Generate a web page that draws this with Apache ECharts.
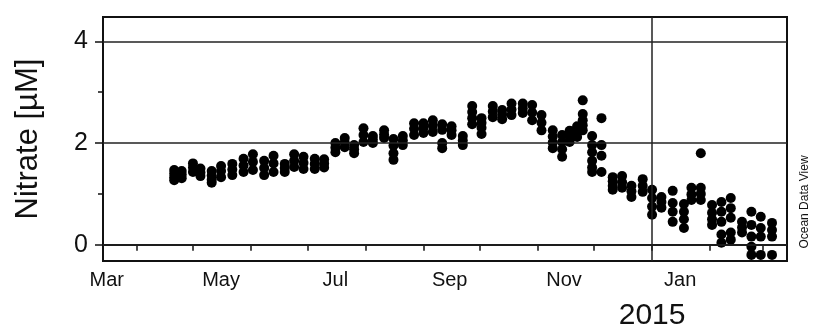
<!DOCTYPE html>
<html>
<head>
<meta charset="utf-8">
<script src="https://cdn.jsdelivr.net/npm/echarts@6/dist/echarts.min.js"></script>
<style>
html,body{margin:0;padding:0;background:#fff;}
#chart{width:813px;height:331px;}
</style>
</head>
<body>
<div id="chart"></div>
<script>
// ---- data ----
const sampleDates = [
  '2014-04-21','2014-04-25','2014-05-01','2014-05-05','2014-05-11','2014-05-16','2014-05-22','2014-05-28',
  '2014-06-02','2014-06-08','2014-06-13','2014-06-19','2014-06-24','2014-06-29','2014-07-05','2014-07-10',
  '2014-07-16','2014-07-21','2014-07-26','2014-07-31','2014-08-05','2014-08-11','2014-08-16','2014-08-21',
  '2014-08-27','2014-09-01','2014-09-06','2014-09-11','2014-09-16','2014-09-22','2014-09-27','2014-10-02',
  '2014-10-08','2014-10-13','2014-10-18','2014-10-24','2014-10-29','2014-11-03','2014-11-09','2014-11-14',
  '2014-11-18','2014-11-22','2014-11-25','2014-11-30','2014-12-05','2014-12-11','2014-12-16','2014-12-21',
  '2014-12-27','2015-01-01','2015-01-06','2015-01-12','2015-01-18','2015-01-22','2015-01-27','2015-02-02',
  '2015-02-07','2015-02-12','2015-02-18','2015-02-23','2015-02-28','2015-03-06'
];
const nitrateProfiles = [
  [1.47,1.40,1.33,1.27],[1.45,1.38,1.31],[1.60,1.52,1.43],[1.50,1.42,1.35],[1.45,1.36,1.28,1.22],
  [1.55,1.45,1.33],[1.59,1.48,1.37],[1.69,1.56,1.43],
  [1.78,1.63,1.47],[1.65,1.51,1.37],[1.75,1.60,1.43],[1.59,1.51,1.43],[1.78,1.65,1.53],
  [1.73,1.61,1.49],[1.69,1.59,1.49],[1.68,1.60,1.52],
  [2.00,1.91,1.82],[2.10,2.01,1.92],[1.96,1.88,1.80],[2.29,2.16,2.02],[2.14,2.07,2.00],
  [2.25,2.17,2.10],[2.08,1.95,1.80,1.67],[2.14,2.05,1.96],
  [2.39,2.28,2.16],[2.39,2.30,2.20],[2.45,2.34,2.22],[2.37,2.26,2.00,1.90],[2.33,2.25,2.16],
  [2.14,2.05,1.96],[2.73,2.61,2.49,2.37],[2.49,2.40,2.30,2.18],
  [2.73,2.62,2.51],[2.65,2.56,2.47],[2.78,2.66,2.55],[2.78,2.68,2.59],[2.75,2.60,2.45],
  [2.55,2.40,2.25],[2.25,2.13,2.01,1.90],[2.16,2.02,1.88,1.73],
  [2.24,2.13,2.02],[2.33,2.22,2.12],[2.84,2.57,2.45,2.35,2.25],[2.14,1.96,1.82,1.65,1.52,1.43],
  [2.49,1.96,1.75,1.43],[1.33,1.25,1.16,1.08],[1.35,1.23,1.12],[1.16,1.05,0.94],
  [1.29,1.16,1.04],[1.08,0.92,0.75,0.59],[0.94,0.84,0.73],[1.06,0.82,0.65,0.45],
  [0.80,0.65,0.50,0.33],[1.12,0.99,0.88],[1.80,1.12,1.00,0.88],[0.78,0.63,0.50,0.39],
  [0.84,0.65,0.45,0.20,0.04],[0.92,0.72,0.53,0.24,0.10],[0.45,0.34,0.24],[0.65,0.39,0.16,-0.04,-0.20],
  [0.55,0.33,0.16,-0.20],[0.43,0.29,0.16,-0.20]
];
const monthNames = ['Jan','Feb','Mar','Apr','May','Jun','Jul','Aug','Sep','Oct','Nov','Dec'];
const axisStart = '2014-03-14';
const axisEnd = '2015-03-14';
const monthTickDates = ['2014-04-01','2014-05-01','2014-06-01','2014-07-01','2014-08-01','2014-09-01',
  '2014-10-01','2014-11-01','2014-12-01','2015-01-01','2015-02-01','2015-03-01'];
const monthLabelDates = ['2014-03-16','2014-05-16','2014-07-16','2014-09-15','2014-11-15','2015-01-16'];
const yearLineDate = '2015-01-01';
const yearLabel = '2015';
const yMajorTicks = [0,2,4];
const yMinorTicks = [1,3];

// ---- build ----
function ts(s){ const p = s.split('-').map(Number); return Date.UTC(p[0], p[1]-1, p[2]); }
const points = [];
sampleDates.forEach((d,i)=>{ nitrateProfiles[i].forEach(v=>points.push([ts(d),v])); });
const tickTs = monthTickDates.map(ts);
const labelTs = monthLabelDates.map(ts);
const yearTs = ts(yearLineDate);
const minTs = ts(axisStart);
const maxTs = ts(axisEnd);
const FONT = 'Liberation Sans, Arial, sans-serif';

const chart = echarts.init(document.getElementById('chart'));
chart.setOption({
  animation:false,
  backgroundColor:'#fff',
  grid:{left:103,right:26,top:17,bottom:70,show:true,borderColor:'#111',borderWidth:2,containLabel:false},
  xAxis:[{
    type:'value',min:minTs,max:maxTs,position:'bottom',
    axisLine:{show:true,lineStyle:{color:'#111',width:2}},
    axisTick:{show:true,customValues:tickTs,length:6,lineStyle:{color:'#111',width:1.5}},
    axisLabel:{show:true,customValues:labelTs,margin:9,color:'#111',fontSize:20,fontFamily:FONT,
      showMinLabel:true,showMaxLabel:true,
      formatter:function(v){return monthNames[new Date(v).getUTCMonth()];}},
    splitLine:{show:false}
  },{
    type:'value',min:minTs,max:maxTs,position:'bottom',
    axisLine:{show:false},axisTick:{show:false},splitLine:{show:false},
    axisLabel:{show:true,customValues:[yearTs],margin:40,color:'#111',fontSize:30,fontFamily:FONT,
      formatter:function(){return yearLabel;}}
  }],
  yAxis:[{
    type:'value',min:-0.32,max:4.48,position:'left',
    name:'Nitrate [µM]',nameLocation:'middle',nameGap:59,nameRotate:90,
    nameTextStyle:{color:'#111',fontSize:31,fontFamily:FONT},
    axisLine:{show:true,lineStyle:{color:'#111',width:2}},
    axisTick:{show:true,customValues:yMajorTicks,length:8,lineStyle:{color:'#111',width:1.5}},
    axisLabel:{show:true,customValues:yMajorTicks,margin:15,color:'#111',fontSize:25,fontFamily:FONT},
    splitLine:{show:false}
  },{
    type:'value',min:-0.32,max:4.48,position:'left',
    axisLine:{show:false},
    axisTick:{show:true,customValues:yMinorTicks,length:5,lineStyle:{color:'#111',width:1.5}},
    axisLabel:{show:false},splitLine:{show:false}
  }],
  graphic:[{
    type:'text',x:805,y:202,rotation:Math.PI/2,
    style:{text:'Ocean Data View',fill:'#111',font:'12px '+FONT,align:'center',verticalAlign:'middle'}
  }],
  series:[{
    type:'line',data:[],z:1,silent:true,
    markLine:{silent:true,symbol:['none','none'],label:{show:false},animation:false,
      lineStyle:{color:'#222',width:1.5,type:'solid'},
      data:[{yAxis:0},{yAxis:2},{yAxis:4},{xAxis:yearTs}]}
  },{
    type:'scatter',data:points,z:3,symbol:'circle',symbolSize:10,
    itemStyle:{color:'#000',opacity:1}
  }]
});
</script>
</body>
</html>
